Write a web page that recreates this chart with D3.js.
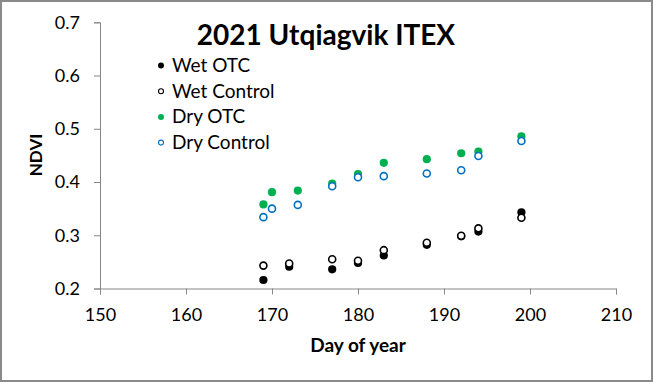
<!DOCTYPE html>
<html>
<head>
<meta charset="utf-8">
<script src="https://cdn.jsdelivr.net/npm/d3@7/dist/d3.min.js"></script>
<style>
  body { margin: 0; background: #fff; }
  text { font-family: Lato, "Open Sans", sans-serif; fill: #000; }
</style>
</head>
<body>
<div id="chart"></div>
<script>
// data
const wetDays = [169, 172, 177, 180, 183, 188, 192, 194, 199];
const wetOTC = [0.216, 0.241, 0.236, 0.248, 0.262, 0.282, 0.298, 0.307, 0.343];
const wetControl = [0.243, 0.247, 0.255, 0.252, 0.272, 0.286, 0.299, 0.313, 0.333];
const dryDays = [169, 170, 173, 177, 180, 183, 188, 192, 194, 199];
const dryOTC = [0.358, 0.381, 0.384, 0.397, 0.415, 0.436, 0.443, 0.454, 0.457, 0.486];
const dryControl = [0.334, 0.350, 0.357, 0.392, 0.409, 0.411, 0.416, 0.422, 0.449, 0.477];
const xTicks = [150, 160, 170, 180, 190, 200, 210];
const yTicks = [0.2, 0.3, 0.4, 0.5, 0.6, 0.7];

const series = [
  { name: "Wet OTC", days: wetDays, vals: wetOTC, color: "#000", open: false },
  { name: "Wet Control", days: wetDays, vals: wetControl, color: "#000", open: true },
  { name: "Dry OTC", days: dryDays, vals: dryOTC, color: "#00b050", open: false },
  { name: "Dry Control", days: dryDays, vals: dryControl, color: "#0070c0", open: true }
];

const W = 653, H = 382;
const svg = d3.select("#chart").append("svg").attr("width", W).attr("height", H);

// frame
svg.append("rect").attr("x", 1).attr("y", 1).attr("width", W - 2).attr("height", H - 2)
  .attr("fill", "#fff").attr("stroke", "#8a8a8a").attr("stroke-width", 2);

let x = d3.scaleLinear().domain([150, 210]).range([100, 616]);
let y = d3.scaleLinear().domain([0.2, 0.7]).range([288.5, 22.3]);

let gx = svg.append("g").attr("transform", "translate(0,288.5)")
  .call(d3.axisBottom(x).tickValues(xTicks).tickSizeOuter(0).tickSize(6).tickPadding(14));
let gy = svg.append("g").attr("transform", "translate(100,0)")
  .call(d3.axisLeft(y).tickValues(yTicks).tickFormat(d3.format(".1f")).tickSizeOuter(0).tickSize(6).tickPadding(14));

[gx, gy].forEach(g => {
  g.select(".domain").attr("stroke", "#888");
  g.selectAll(".tick line").attr("stroke", "#888");
  g.selectAll(".tick text").style("font-size", "18px").attr("fill", "#000");
});

// points
series.forEach(s => {
  svg.append("g").selectAll("circle")
    .data(s.days.map((d, i) => [d, s.vals[i]]))
    .enter().append("circle")
    .attr("cx", d => x(d[0]))
    .attr("cy", d => y(d[1]))
    .attr("r", s.open ? 3.5 : 4.1)
    .attr("fill", s.open ? "#fff" : s.color)
    .attr("stroke", s.open ? s.color : "none")
    .attr("stroke-width", 1.6);
});

// title
svg.append("text").attr("x", 326).attr("y", 45).attr("text-anchor", "middle")
  .style("font-size", "28px").style("font-weight", "bold").text("2021 Utqiagvik ITEX");

// axis titles
svg.append("text").attr("x", 358).attr("y", 352).attr("text-anchor", "middle")
  .style("font-size", "19px").style("font-weight", "bold").text("Day of year");
svg.append("text").attr("transform", "translate(42,155) rotate(-90)").attr("text-anchor", "middle")
  .style("font-size", "17px").style("font-weight", "bold").text("NDVI");

// legend
let leg = svg.append("g").selectAll("g").data(series).enter().append("g")
  .attr("transform", (d, i) => "translate(161," + (65.5 + i * 25.7) + ")");
leg.append("circle").attr("r", d => d.open ? 2.5 : 3)
  .attr("fill", d => d.open ? "#fff" : d.color)
  .attr("stroke", d => d.open ? d.color : "none").attr("stroke-width", 1.1);
leg.append("text").attr("x", 11).attr("y", 6.5).style("font-size", "19px").text(d => d.name);
</script>
</body>
</html>
